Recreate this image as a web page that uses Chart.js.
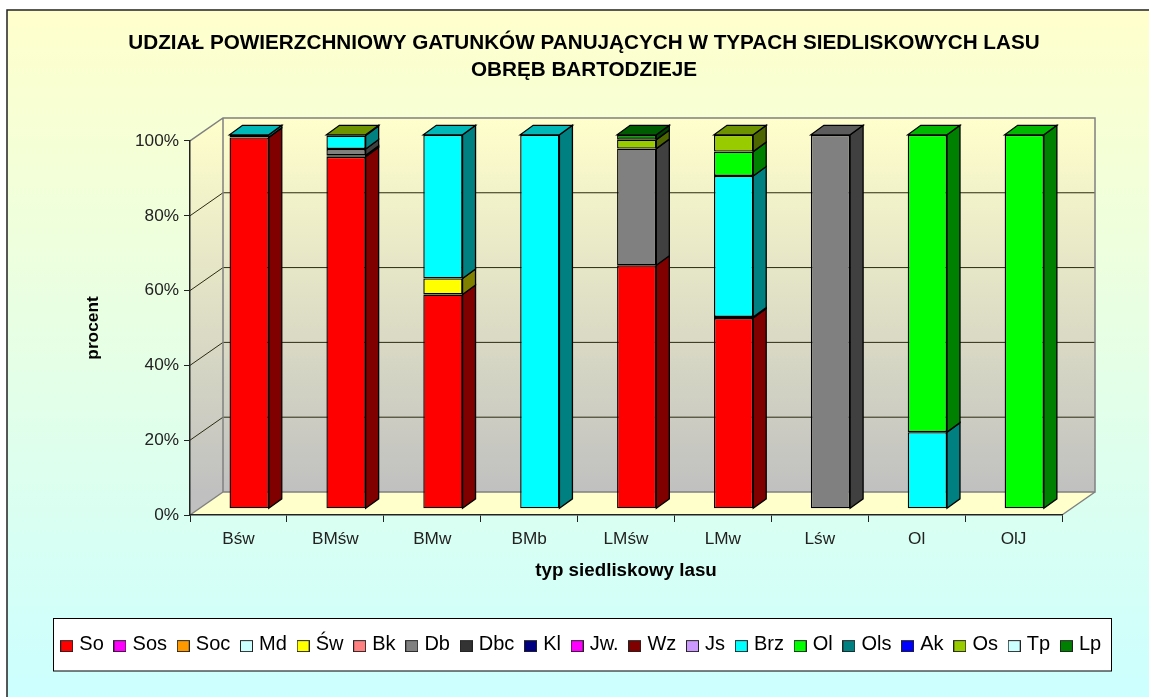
<!DOCTYPE html>
<html><head><meta charset="utf-8">
<style>html,body{margin:0;padding:0;background:#fff}canvas{display:block}</style>
<script src="https://cdn.jsdelivr.net/npm/chart.js@4"></script></head>
<body><div style="width:1149px;height:697px"><canvas id="c" width="1149" height="697"></canvas></div>
<script>
const categories=['Bśw','BMśw','BMw','BMb','LMśw','LMw','Lśw','Ol','OlJ'];
const So =[99.3,94.1,57.3,0,65.1,51,0,0,0];
const Sos=[0,0,0,0,0,0,0,0,0];
const Soc=[0,0,0,0,0,0,0,0,0];
const Md =[0,0,0,0,0,0,0,0,0];
const Sw =[0,0.4,4.3,0,0,0,0,0,0];
const Bk =[0,0,0,0,0,0,0,0,0];
const Db =[0,1.7,0,0,31.2,0,100,0,0];
const Dbc=[0,0,0,0,0,0,0,0,0];
const Kl =[0,0,0,0,0,0,0,0,0];
const Jw =[0,0,0,0,0,0,0,0,0];
const Wz =[0,0,0,0,0,0.3,0,0,0];
const Js =[0,0,0,0,0,0,0,0,0];
const Brz=[0.7,3.6,38.4,100,0,37.7,0,20.5,0];
const Ol =[0,0,0,0,0,6.5,0,79.5,100];
const Ols=[0,0,0,0,0,0,0,0,0];
const Ak =[0,0,0,0,0,0,0,0,0];
const Os =[0,0.2,0,0,2.4,4.5,0,0,0];
const Tp =[0,0,0,0,0,0,0,0,0];
const Lp =[0,0,0,0,1.3,0,0,0,0];
const seriesNames=['So','Sos','Soc','Md','Św','Bk','Db','Dbc','Kl','Jw.','Wz','Js','Brz','Ol','Ols','Ak','Os','Tp','Lp'];
const seriesValues=[So,Sos,Soc,Md,Sw,Bk,Db,Dbc,Kl,Jw,Wz,Js,Brz,Ol,Ols,Ak,Os,Tp,Lp];
const seriesColors=['#FF0000','#FF00FF','#FF9900','#CCFFFF','#FFFF00','#FF8080','#808080','#333333','#000080','#FF00FF','#800000','#CC99FF','#00FFFF','#00FF00','#008080','#0000FF','#99CC00','#CCFFFF','#008000'];
const titleLines=['UDZIAŁ POWIERZCHNIOWY GATUNKÓW PANUJĄCYCH W TYPACH SIEDLISKOWYCH LASU','OBRĘB BARTODZIEJE'];
const FONT='"Liberation Sans", Arial, sans-serif';
const WALL={dx:33,dy:-23}, FRONT={dx:10.7,dy:-6.2}, SIDE={dx:13,dy:-9.5};

function shade(hex,f){const n=parseInt(hex.slice(1),16);
  return `rgb(${Math.round((n>>16&255)*f)},${Math.round((n>>8&255)*f)},${Math.round((n&255)*f)})`;}
function poly(ctx,pts,fill,stroke,lw){ctx.beginPath();pts.forEach((p,i)=>i?ctx.lineTo(p[0],p[1]):ctx.moveTo(p[0],p[1]));ctx.closePath();
  if(fill){ctx.fillStyle=fill;ctx.fill();}
  if(stroke){ctx.strokeStyle=stroke;ctx.lineWidth=lw||1;ctx.lineJoin='miter';ctx.stroke();}}
function swatch(col){const s=document.createElement('canvas');s.width=13;s.height=16;const c=s.getContext('2d');
  c.fillStyle='#222';c.fillRect(0,4,13,12);c.fillStyle=col;c.fillRect(1,5,11,10);return s;}

const frame={id:'frame',
  afterLayout(chart){
    chart.titleBlock.left=19;chart.titleBlock.right=1149;
    const l=chart.legend;l.left=50.5;l.right=1149;l.top=620.5;
  },
  beforeDraw(chart){const c=chart.ctx;c.save();
    const g=c.createLinearGradient(0,10,0,697);g.addColorStop(0,'#FFFFCC');g.addColorStop(1,'#CCFFFF');
    c.fillStyle=g;c.fillRect(7,10,1142,687);
    c.strokeStyle='#222';c.lineWidth=1.5;c.beginPath();c.moveTo(7,697);c.lineTo(7,10);c.lineTo(1149,10);c.stroke();
    c.restore();
    c.save();c.fillStyle='#fff';c.strokeStyle='#000';c.lineWidth=1;
    c.fillRect(53.5,618.5,1058,52.5);c.strokeRect(53.5,618.5,1058,52.5);c.restore();
    const a=chart.chartArea,y=chart.scales.y,ct=c;ct.save();
    const y0=y.getPixelForValue(0),y1=y.getPixelForValue(100),L=a.left,R=a.right;
    const g2=ct.createLinearGradient(0,y1+WALL.dy,0,y0+WALL.dy);g2.addColorStop(0,'#FFFFCC');g2.addColorStop(1,'#C0C0C0');
    poly(ct,[[L+WALL.dx,y1+WALL.dy],[R+WALL.dx,y1+WALL.dy],[R+WALL.dx,y0+WALL.dy],[L+WALL.dx,y0+WALL.dy]],g2);
    poly(ct,[[L,y1],[L+WALL.dx,y1+WALL.dy],[L+WALL.dx,y0+WALL.dy],[L,y0]],g2);
    poly(ct,[[L,y0],[R,y0],[R+WALL.dx,y0+WALL.dy],[L+WALL.dx,y0+WALL.dy]],'#FFFFCC');
    y.ticks.forEach(t=>{const p=y.getPixelForValue(t.value);
      if(t.value===0||t.value===100)return;
      ct.strokeStyle='#2b2b10';ct.lineWidth=1;ct.beginPath();ct.moveTo(L,p);ct.lineTo(L+WALL.dx,p+WALL.dy);ct.lineTo(R+WALL.dx,p+WALL.dy);ct.stroke();});
    ct.strokeStyle='#808080';ct.lineWidth=1.5;ct.beginPath();
    ct.moveTo(L,y1);ct.lineTo(L+WALL.dx,y1+WALL.dy);ct.lineTo(R+WALL.dx,y1+WALL.dy);ct.lineTo(R+WALL.dx,y0+WALL.dy);ct.lineTo(L+WALL.dx,y0+WALL.dy);ct.lineTo(L+WALL.dx,y1+WALL.dy);
    ct.moveTo(L+WALL.dx,y0+WALL.dy);ct.lineTo(L,y0);ct.moveTo(R+WALL.dx,y0+WALL.dy);ct.lineTo(R,y0);ct.stroke();
    ct.restore();
  },
  beforeDatasetsDraw(chart){const c=chart.ctx;c.save();
    const metas=chart.getSortedVisibleDatasetMetas();
    const fx=FRONT.dx,fy=FRONT.dy,sx=SIDE.dx,sy=SIDE.dy;
    categories.forEach((_,i)=>{let top=null;
      metas.forEach(m=>{const el=m.data[i],v=chart.data.datasets[m.index].data[i];
        if(!v)return;const col=chart.data.datasets[m.index].backgroundColor;
        const r=el.x+el.width/2+fx,t=el.y+fy,b=el.base+fy;
        poly(c,[[r,b],[r+sx,b+sy],[r+sx,t+sy],[r,t]],shade(col,0.5),'#000',1.3);
        top={el,col};});
      if(top){const l=top.el.x-top.el.width/2+fx,r=top.el.x+top.el.width/2+fx,t=top.el.y+fy;
        poly(c,[[l,t],[r,t],[r+sx,t+sy],[l+sx,t+sy]],shade(top.col,0.72),'#000',1.3);}
    });
    c.restore();},
  beforeDatasetDraw(chart){chart.ctx.save();chart.ctx.translate(FRONT.dx,FRONT.dy);},
  afterDatasetDraw(chart){chart.ctx.restore();}
};

new Chart(document.getElementById('c'),{type:'bar',
  data:{labels:categories,datasets:seriesNames.map((n,i)=>({label:n,data:seriesValues[i],backgroundColor:seriesColors[i],
    borderColor:'#000',borderWidth:1.4,borderSkipped:false,inflateAmount:0,clip:false,barPercentage:0.405,categoryPercentage:1}))},
  plugins:[frame],
  options:{responsive:false,animation:false,
    layout:{padding:0},
    plugins:{
      tooltip:{enabled:false},
      title:{display:true,text:titleLines,color:'#000',font:{family:FONT,size:20.7,weight:'bold',lineHeight:1.34},padding:{top:29,bottom:56.5}},
      legend:{position:'bottom',align:'start',labels:{color:'#000',font:{family:FONT,size:20},usePointStyle:true,boxWidth:5.2,boxHeight:11,padding:13.6,
        generateLabels(chart){return chart.data.datasets.map((d,i)=>({text:d.label,fillStyle:d.backgroundColor,strokeStyle:'#000',lineWidth:1,datasetIndex:i,fontColor:'#000',pointStyle:swatch(d.backgroundColor)}));}}}
    },
    scales:{
      x:{stacked:true,offset:true,afterFit:s=>{s.height=697-515-s.chart.legend.height;},
        grid:{display:true,offset:true,drawOnChartArea:false,drawTicks:true,tickLength:7,color:'#222'},
        border:{color:'#222',width:1.5},
        ticks:{color:'#222',font:{family:FONT,size:17.2},padding:7,maxRotation:0},
        title:{display:true,text:'typ siedliskowy lasu',color:'#000',font:{family:FONT,size:18.8,weight:'bold'},padding:{top:8,bottom:71}}},
      y:{stacked:true,min:0,max:100,afterFit:s=>{s.width=190;},
        grid:{display:true,drawOnChartArea:false,drawTicks:true,tickLength:6,color:'#222'},
        border:{color:'#222',width:1.5},
        ticks:{stepSize:20,color:'#222',font:{family:FONT,size:17.2},padding:5,callback:v=>v+'%'},
        title:{display:true,text:'procent',color:'#000',font:{family:FONT,size:17.3,weight:'bold'},padding:{top:83,bottom:0}}},
      yR:{axis:'y',position:'right',display:true,afterFit:s=>{s.width=87;},grid:{display:false},border:{display:false},ticks:{display:false}}
    }}});
</script></body></html>
